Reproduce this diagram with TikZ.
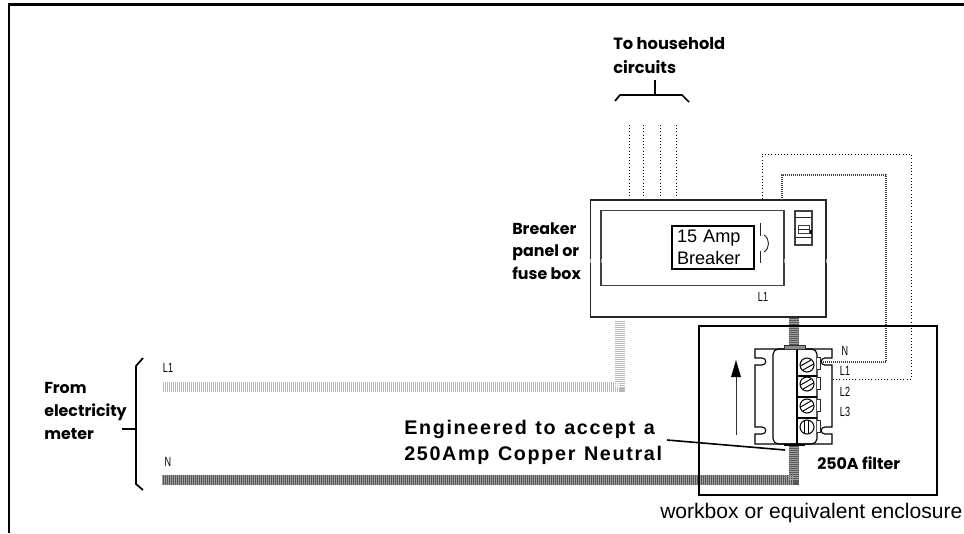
\documentclass[tikz,border=0pt]{standalone}
\usepackage{fontspec}
\setmainfont{Liberation Sans}
\newfontfamily\geofont{Poppins}
\newfontfamily\thinfont[FakeStretch=0.68]{Liberation Sans}
\newfontfamily\spacedfont[LetterSpace=8.5,WordSpace=1.2]{Liberation Sans Bold}
\usetikzlibrary{arrows.meta}
\tikzset{
  x=0.75pt,y=-0.75pt,
  frameline/.style={line width=2pt,black},
  boxA/.style={draw=black!85,line width=1pt,fill=white,inner sep=0,outer sep=0},
  boxB/.style={draw=black!75,line width=1pt,inner sep=0,outer sep=0},
  brkbox/.style={draw=black,line width=1.6pt,inner sep=0,outer sep=0,fill=white,align=left,font=\fontsize{13.6}{16.5}\selectfont},
  encl/.style={draw=black,line width=2pt,inner sep=0,outer sep=0},
  brace/.style={line width=1.3pt,black},
  geo/.style={font=\geofont\bfseries\fontsize{11.9}{17}\selectfont,align=left,inner sep=0,anchor=west},
  tiny/.style={font=\thinfont\fontsize{10}{10}\selectfont,inner sep=0},
  fine/.style={line width=0.7pt,black!85},
  thinwire/.style={line width=0.75pt,black,dash pattern=on 0.8pt off 1.6pt},
  densewire/.style={line width=1.5pt,black!75,dash pattern=on 0.75pt off 0.75pt},
  drawn/.style={line width=0.85pt,black},
  screw/.style={circle,draw=black,line width=0.8pt,minimum size=10.5pt,inner sep=0,fill=white},
}
\newcommand{\neutralwire}[1]{%
  \draw[line width=7.5pt,black!66] #1;
  \draw[line width=7.5pt,black!38,dash pattern=on 0.75pt off 0.75pt] #1;}
\newcommand{\livewire}[1]{%
  \draw[line width=7.5pt,black!28] #1;
  \draw[line width=7.5pt,white,dash pattern=on 0.75pt off 0.75pt] #1;
  \draw[line width=4.5pt,white,dash pattern=on 0.75pt off 2.25pt] #1;}
\begin{document}
\begin{tikzpicture}
\useasboundingbox (0,0) rectangle (964,533);
\fill[white] (0,0) rectangle (964,533);
% frame
\coordinate (fbl) at (9,533); \coordinate (ftl) at (9,4.5); \coordinate (ftr) at (964,4.5);
\draw[frameline] (fbl) -- (ftl) -- (ftr);

% coordinates for wires
\coordinate (Nstart) at (162,480);
\coordinate (Ncorner) at (794,480);
\coordinate (Lstart) at (162,387);
\coordinate (Lcorner) at (620,387);
\coordinate (Npanel) at (794,317);
\coordinate (Lpanel) at (620,320);

\livewire{(Lstart) -- (Lcorner) -- (Lpanel)}
\neutralwire{(Nstart) -- (Ncorner) -- (Npanel)}

% dotted household wires
\foreach \n/\x in {a/629,b/643,c/660,d/676}{
  \coordinate (h\n) at (\x,125);
  \coordinate (p\n) at (\x,200);
  \draw[thinwire] (h\n) -- (p\n);
}

% breaker panel
\node[boxA,minimum width=176.6pt,minimum height=87.75pt] (panel) at (708.25,258.5) {};
\node[boxB,minimum width=137.25pt,minimum height=55.9pt] (inner) at (692.5,248) {};
\node[brkbox,minimum width=61.5pt,minimum height=32.25pt,text width=54pt] (brk) at (713,247.5) {15 Amp\\[-0.5pt]Breaker};
\foreach \n/\a/\b in {1/223/236,2/251/263}{
  \coordinate (t\n) at (760,\a); \coordinate (u\n) at (760,\b);
  \draw[fine] (t\n) -- (u\n);
}
\coordinate (c1) at (764,235); \coordinate (c2) at (764,252);
\draw[fine] (c1) .. controls (770,239) and (770,248) .. (c2);
% panel switch
\node[boxB,line width=0.8pt,minimum width=12.75pt,minimum height=25.5pt] (sw) at (803.5,228) {};
\draw[fine] (sw.west |- 0,217) -- (sw.east |- 0,217);
\draw[fine] (sw.west |- 0,237) -- (sw.east |- 0,237);
\node[boxB,line width=0.8pt,minimum width=8.5pt,minimum height=6.5pt] (swin) at (804,229.5) {};
\draw[fine] (swin.west) -- (swin.east);
\fill[black] (809.5,230) rectangle (812,234);
\foreach \x in {590.5,601,784,826}{\draw[black!35,line width=0.5pt] (\x,259) -- (\x,263);}
\node[tiny] (pl1) at (763,297) {L1};

% bypass wires
\coordinate (o0) at (762,199); \coordinate (o1) at (762,154); \coordinate (o2) at (911,154); \coordinate (o3) at (911,379); \coordinate (o4) at (817,379);
\draw[thinwire] (o0) -- (o1) -- (o2) -- (o3) -- (o4);
\coordinate (i0) at (782,200); \coordinate (i1) at (782,175); \coordinate (i2) at (886,175); \coordinate (i3) at (886,362); \coordinate (i4) at (820,362);
\draw[densewire] (i0) -- (i1) -- (i2) -- (i3) -- (i4);

% enclosure
\node[encl,minimum width=178.5pt,minimum height=126.75pt] (box) at (818,410.5) {};

% filter block
\draw[drawn,fill=white] (773,349) -- (755,349) -- (755,358) -- (762,358) .. controls (767,358) and (767,365) .. (762,365) -- (755,365) -- (755,427) -- (762,427) .. controls (767,427) and (767,434) .. (762,434) -- (755,434) -- (755,444) -- (832,444) -- (832,434) -- (825,434) .. controls (820,434) and (820,427) .. (825,427) -- (832,427) -- (832,365) -- (825,365) .. controls (820,365) and (820,358) .. (825,358) -- (832,358) -- (832,349) -- cycle;
\draw[drawn,rounded corners=4pt] (778,349) -- (773,349) -- (773,444) -- (817,444) -- (817,349) -- (778,349);
\draw[drawn] (797,349) -- (797,444);
\foreach \y in {376,397,418}{\draw[line width=1pt,black] (797,\y) -- (817,\y);}
\foreach \y in {357,377,399,420}{\draw[fine,fill=white] (817,\y) -- (820,\y) -- (820,\y+12) -- (817,\y+12);}
\node[draw=black!80,fill=black!45,line width=0.5pt,minimum width=15.75pt,minimum height=3pt,inner sep=0] (tab) at (794.5,347) {};
\node[fill=black,minimum width=15.75pt,minimum height=1.5pt,inner sep=0] (tabb) at (794.5,445) {};
\foreach \n/\y in {1/365,2/384,3/406}{
  \node[screw] (s\n) at (807,\y) {};
  \draw[line width=0.7pt] (800.5,\y+1) -- (811,\y-5);
  \draw[line width=0.7pt] (803,\y+5) -- (813.5,\y-1);
}
\node[screw] (s4) at (807,427) {};
\draw[line width=0.7pt] (804.5,420.5) -- (804.5,433.5);
\draw[line width=0.7pt] (808.5,420.5) -- (808.5,433.5);
\foreach \t/\y in {N/351,L1/371,L2/392,L3/412}{\node[tiny] (lab\t) at (845,\y) {\t};}
% arrow
\coordinate (aa) at (736,435); \coordinate (ab) at (736,360);
\draw[line width=0.7pt,black!80] (aa) -- (736,375);
\fill[black] (ab) -- (741,377) -- (731,377) -- cycle;
\node[geo] (flt) at (817,463) {250A filter};

% leader
\node[inner sep=0,align=left,anchor=north west,font=\spacedfont\fontsize{14.8}{19.5}\selectfont] (eng) at (404,420) {Engineered to accept a\\250Amp Copper Neutral};
\coordinate (l0) at (667,440); \coordinate (l1) at (785,450);
\draw[line width=1.2pt,black] (l0) -- (l1);
\node[inner sep=0,anchor=west,font=\fontsize{15.8}{18}\selectfont] (wb) at (660,513) {workbox or equivalent enclosure};

% text labels
\node[geo,font=\geofont\bfseries\fontsize{12.2}{18.5}\selectfont] (tohh) at (613,55.5) {To household\\circuits};
\coordinate (b1) at (615,101); \coordinate (b2) at (620,95); \coordinate (b3) at (682,95); \coordinate (b4) at (689,102); \coordinate (bm) at (655,95); \coordinate (bs) at (655,80);
\draw[brace] (b1) -- (b2) -- (b3) -- (b4);
\draw[brace] (bs) -- (bm);
\node[geo] (brkl) at (512,251) {Breaker\\panel or\\fuse box};
\node[geo] (meter) at (44,411) {From\\electricity\\meter};
\coordinate (m1) at (143,358); \coordinate (m2) at (136,366); \coordinate (m3) at (136,484); \coordinate (m4) at (143,490); \coordinate (mm) at (136,429); \coordinate (ms) at (122,429);
\draw[brace] (m1) -- (m2) -- (m3) -- (m4);
\draw[brace] (ms) -- (mm);
\node[tiny] (ml) at (168,368) {L1};
\node[tiny] (mn) at (168,462) {N};
\end{tikzpicture}
\end{document}
